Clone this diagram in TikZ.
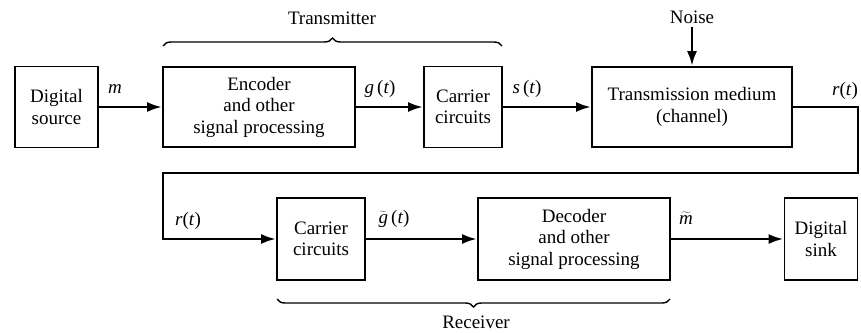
\RequirePackage{fix-cm}
\documentclass[tikz,border=0pt]{standalone}
\usepackage{fontspec}
\setmainfont{Liberation Serif}
\usepackage{tikz}
\usetikzlibrary{arrows.meta,decorations.pathreplacing,positioning}
\newcommand{\tld}[1]{$\widetilde{\mbox{\itshape #1}}$}

\begin{document}
\begin{tikzpicture}[x=1pt,y=-1pt,
  font=\fontsize{19}{21.5}\selectfont,
  blk/.style={draw,line width=1.7pt,align=center,inner sep=2pt},
  sig/.style={line width=2.8pt,-{Latex[length=15pt,width=10pt]}},
  lbl/.style={inner sep=1pt}]
\useasboundingbox (0,0) rectangle (861,332);
% top row: transmitter side
\node[blk,minimum width=83,minimum height=81] (src) at (56.5,107) {Digital\\source};
\node[blk,minimum width=192,minimum height=80] (enc) at (259,107) {Encoder\\and other\\signal processing};
\node[blk,minimum width=78,minimum height=81] (car1) at (463,107) {Carrier\\circuits};
\node[blk,minimum width=200,minimum height=80] (chan) at (692,107) {Transmission medium\\(channel)};
\node (noise) at (692,17) {Noise};
% bottom row: receiver side
\node[blk,minimum width=88,minimum height=82] (car2) at (321,239) {Carrier\\circuits};
\node[blk,minimum width=192,minimum height=82] (dec) at (574,239) {Decoder\\and other\\signal processing};
\node[blk,minimum width=73,minimum height=82] (sink) at (821,239) {Digital\\sink};
\coordinate (rb) at (858,173);
\coordinate (rc) at (163,173);
% connectors
\draw[sig] (src) -- (enc);
\draw[sig] (enc) -- (car1);
\draw[sig] (car1) -- (chan);
\draw[sig] (noise) -- (chan);
\draw[sig] (chan.east) -| (rb) -- (rc) |- (car2.west);
\draw[sig] (car2) -- (dec);
\draw[sig] (dec) -- (sink);
% signal names
\node[lbl] (lm) at (115,89) {\textit{m}};
\node[lbl] (lg) at (380,89) {\textit{g}\,(\textit{t})};
\node[lbl] (ls) at (527,89) {\textit{s}\,(\textit{t})};
\node[lbl] (lr1) at (845,91) {\textit{r}(\textit{t})};
\node[lbl] (lr2) at (188,221) {\textit{r}(\textit{t})};
\node[lbl] (lgt) at (394,219) {\tld{g}\,(\textit{t})};
\node[lbl] (lmt) at (686,218) {\tld{m}};
% braces
\draw[line width=1.4pt,decorate,decoration={brace,amplitude=8pt}] (163,46) -- (502,46);
\node (tx) at (332,18) {Transmitter};
\draw[line width=1.4pt,decorate,decoration={brace,amplitude=8pt}] (670,299) -- (277,299);
\node (rx) at (476,322) {Receiver};
\end{tikzpicture}
\end{document}
